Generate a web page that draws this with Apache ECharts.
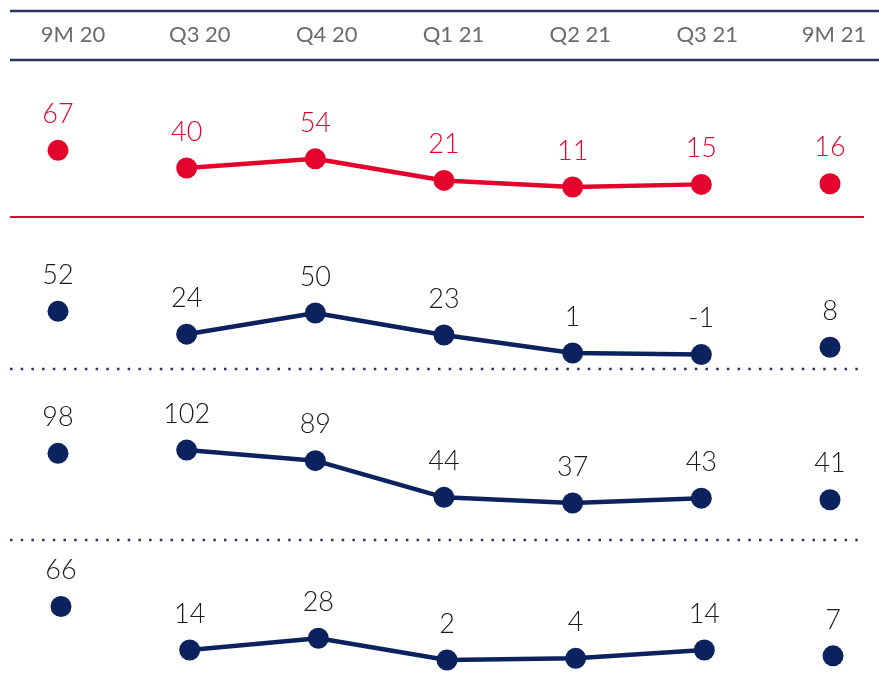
<!DOCTYPE html>
<html>
<head>
<meta charset="utf-8">
<script src="https://cdn.jsdelivr.net/npm/echarts@6/dist/echarts.min.js"></script>
<style>
  html, body { margin: 0; padding: 0; background: #fff; }
  #chart { width: 879px; height: 676px; }
</style>
</head>
<body>
<div id="chart"></div>
<script>
(function () {
  'use strict';

  const quarters = ['Q3 20', 'Q4 20', 'Q1 21', 'Q2 21', 'Q3 21'];
  const categories = ['9M 20', 'Q3 20', 'Q4 20', 'Q1 21', 'Q2 21', 'Q3 21', '9M 21'];
  const ninePeriods = ['9M 20', '9M 21'];

  const row1Quarters = [40, 54, 21, 11, 15];
  const row1Nine = [67, 16];
  const row2Quarters = [24, 50, 23, 1, -1];
  const row2Nine = [52, 8];
  const row3Quarters = [102, 89, 44, 37, 43];
  const row3Nine = [98, 41];
  const row4Quarters = [14, 28, 2, 4, 14];
  const row4Nine = [66, 7];

  const RED = '#e4032c';
  const NAVY = '#0b225f';
  const RULE = '#2a3363';
  const FONT = 'Lato';

  const rows = [
    { q: row1Quarters, n: row1Nine, color: RED, text: RED, grid: { left: 58, right: 49, top: 128.7, height: 65.5 }, min: 0, max: 100 },
    { q: row2Quarters, n: row2Nine, color: NAVY, text: '#1a1a1a', grid: { left: 58, right: 49, top: 288.5, height: 81.6 }, min: -20, max: 80 },
    { q: row3Quarters, n: row3Nine, color: NAVY, text: '#1a1a1a', grid: { left: 58, right: 49, top: 435.4, height: 97.8 }, min: 0, max: 120 },
    { q: row4Quarters, n: row4Nine, color: NAVY, text: '#1a1a1a', grid: { left: 61, right: 46, top: 594.8, height: 66.9 }, min: 0, max: 80 }
  ];

  const chart = echarts.init(document.getElementById('chart'));

  // header grid only carries the period labels
  const grids = [{ left: 73, right: 45, top: 20, height: 1 }];
  const xAxes = [{
    gridIndex: 0, type: 'category', data: categories, boundaryGap: false,
    axisLine: { show: false }, axisTick: { show: false }, splitLine: { show: false },
    axisLabel: { color: '#6b6b6b', fontSize: 22, fontFamily: FONT, margin: 3 }
  }];
  const yAxes = [{ gridIndex: 0, type: 'value', show: false }];
  const series = [];

  const valueLabel = (r) => ({
    show: true, position: 'top', distance: 12,
    color: r.text, fontSize: 27, fontWeight: 300, fontFamily: FONT
  });

  rows.forEach((r, i) => {
    const gi = i + 1;
    grids.push(r.grid);
    xAxes.push({
      gridIndex: gi, type: 'category', data: categories, boundaryGap: false, show: false
    });
    yAxes.push({ gridIndex: gi, type: 'value', min: r.min, max: r.max, show: false });

    series.push({
      type: 'line', xAxisIndex: gi, yAxisIndex: gi, clip: false,
      data: quarters.map((c, k) => [c, r.q[k]]),
      symbol: 'circle', symbolSize: 21,
      lineStyle: { color: r.color, width: 4.5 },
      itemStyle: { color: r.color, opacity: 1 },
      label: valueLabel(r),
      silent: true
    });
    series.push({
      type: 'scatter', xAxisIndex: gi, yAxisIndex: gi, clip: false,
      data: ninePeriods.map((c, k) => [c, r.n[k]]),
      symbol: 'circle', symbolSize: 21,
      itemStyle: { color: r.color, opacity: 1 },
      label: valueLabel(r),
      silent: true
    });
  });

  const rule = (y, color, dashed) => ({
    type: 'line', silent: true,
    shape: { x1: 10, y1: y, x2: dashed ? 862 : 864, y2: y },
    style: dashed
      ? { stroke: color, lineWidth: 2.5, lineDash: [2.5, 8.2] }
      : { stroke: color, lineWidth: 2.2 }
  });

  chart.setOption({
    animation: false,
    grid: grids,
    xAxis: xAxes,
    yAxis: yAxes,
    series: series,
    graphic: [
      { type: 'line', silent: true, shape: { x1: 10, y1: 11, x2: 879, y2: 11 }, style: { stroke: RULE, lineWidth: 2.5 } },
      { type: 'line', silent: true, shape: { x1: 10, y1: 60, x2: 879, y2: 60 }, style: { stroke: RULE, lineWidth: 2.5 } },
      rule(217, RED, false),
      rule(369, RULE, true),
      rule(540, RULE, true)
    ]
  });

  window.addEventListener('resize', () => chart.resize());
})();
</script>
</body>
</html>
